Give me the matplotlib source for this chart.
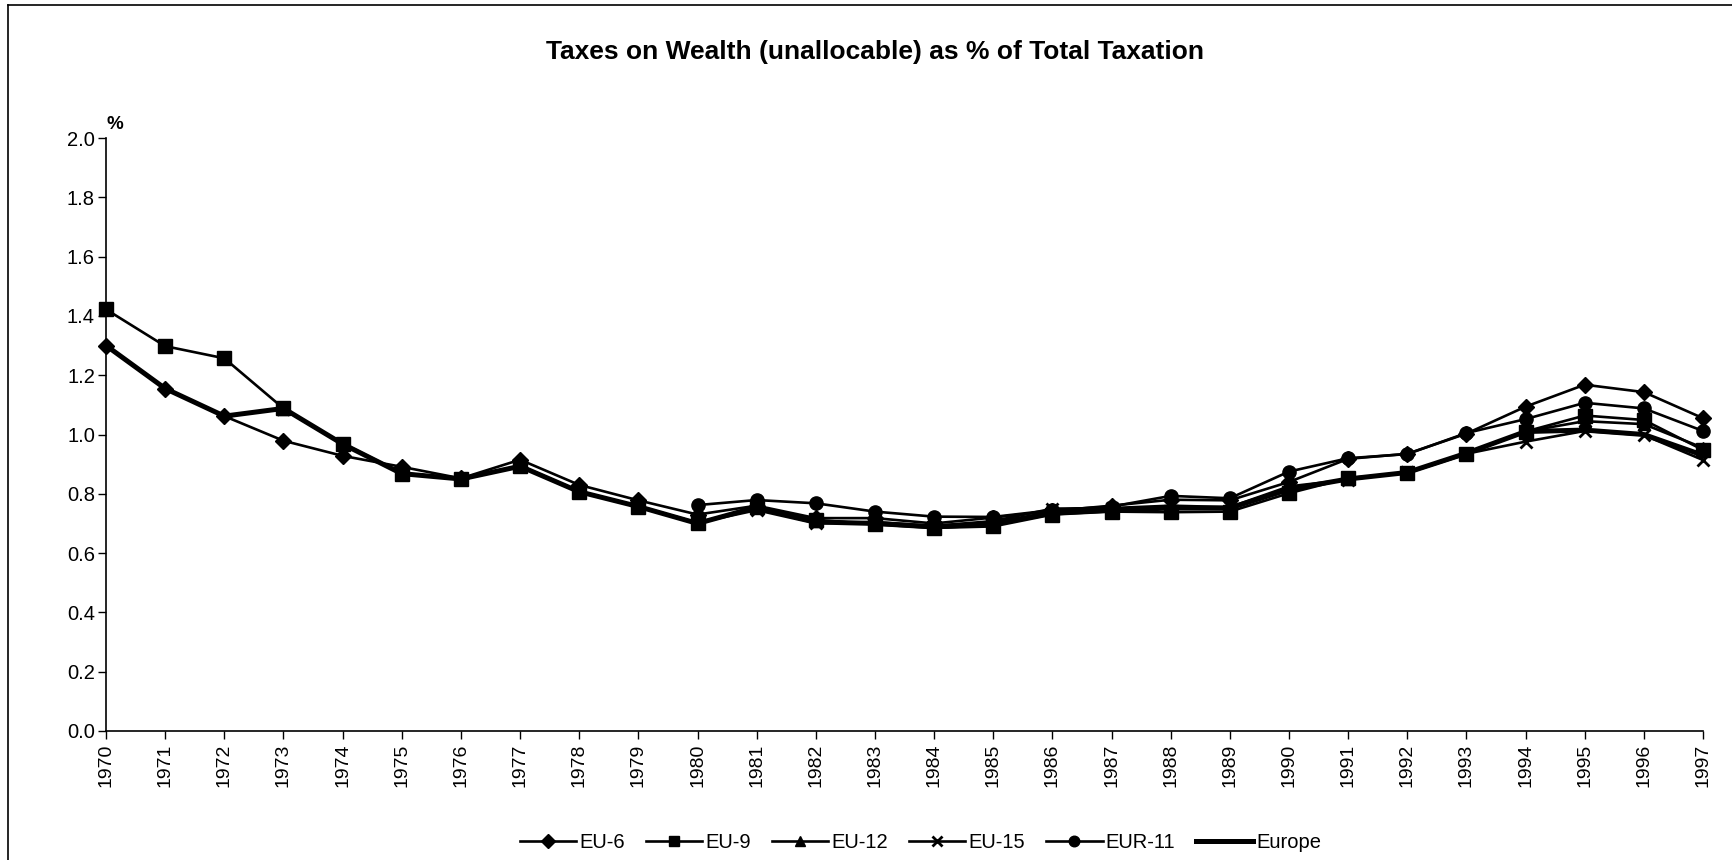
import matplotlib
matplotlib.use("Agg")
import matplotlib.pyplot as plt
import numpy as np
from matplotlib.lines import Line2D

plt.rcParams['font.family'] = ['Liberation Sans', 'DejaVu Sans']

years = list(range(1970, 1998))
nan = np.nan

# values (% of total taxation)
eu6 = [1.300, 1.155, 1.062, 0.979, 0.928, 0.891, 0.852, 0.915, 0.830, 0.778,
       0.730, 0.760, 0.718, 0.718, 0.700, 0.720, 0.742, 0.760, 0.780, 0.778,
       0.840, 0.918, 0.935, 1.003, 1.094, 1.168, 1.143, 1.055]
eu9 = [1.422, 1.298, 1.257, 1.088, 0.968, 0.868, 0.850, 0.893, 0.807, 0.757,
       0.700, 0.755, 0.712, 0.697, 0.685, 0.690, 0.730, 0.740, 0.738, 0.740,
       0.802, 0.853, 0.870, 0.934, 1.010, 1.064, 1.049, 0.948]
eu12 = [nan, nan, nan, 1.086, 0.970, 0.870, 0.851, 0.895, 0.808, 0.758,
        0.702, 0.755, 0.708, 0.700, 0.690, 0.700, 0.735, 0.745, 0.752, 0.752,
        0.815, 0.850, 0.872, 0.937, 1.010, 1.045, 1.035, 0.955]
eu15 = [nan, nan, nan, 1.087, 0.968, 0.869, 0.850, 0.894, 0.808, 0.758,
        0.702, 0.745, 0.700, 0.705, 0.692, 0.708, 0.750, 0.752, 0.760, 0.755,
        0.825, 0.848, 0.872, 0.935, 0.976, 1.012, 0.998, 0.914]
eur11 = [nan, nan, nan, nan, nan, nan, nan, nan, nan, nan,
         0.762, 0.779, 0.768, 0.740, 0.723, 0.722, 0.745, 0.757, 0.793, 0.785,
         0.875, 0.920, 0.934, 1.005, 1.052, 1.107, 1.088, 1.012]
europe = [1.300, 1.155, 1.062, 1.088, 0.968, 0.868, 0.850, 0.893, 0.807, 0.757,
          0.700, 0.755, 0.705, 0.700, 0.688, 0.700, 0.735, 0.745, 0.752, 0.752,
          0.815, 0.850, 0.872, 0.937, 1.010, 1.015, 1.000, 0.930]

series = [
    ("EU-6", eu6, "D", 8.5, 10),
    ("EU-9", eu9, "s", 9.5, 9),
    ("EU-12", eu12, "^", 9.0, 6),
    ("EU-15", eu15, "x", 9.0, 5),
    ("EUR-11", eur11, "o", 9.5, 8),
]

fig = plt.figure(figsize=(17.33, 8.6), dpi=100)
ax = fig.add_axes([0.0612, 0.150, 0.9215, 0.6895])

for name, vals, mk, ms, z in series:
    ax.plot(years, vals, color="black", lw=1.9, marker=mk, markersize=ms,
            markeredgewidth=2 if mk == "x" else 1, clip_on=False,
            zorder=z, label=name)
ax.plot(years, europe, color="black", lw=3.6, clip_on=False, zorder=4, label="Europe")

ax.set_xlim(1970, 1997)
ax.set_ylim(0, 2.0)
ax.set_yticks(np.arange(0, 2.01, 0.2))
ax.set_yticklabels([f"{v:.1f}" for v in np.arange(0, 2.01, 0.2)], fontsize=14.5)
ax.set_xticks(years)
ax.set_xticklabels([str(y) for y in years], rotation=90, fontsize=14)
ax.tick_params(axis="both", direction="out", length=6, width=1, colors="black")
ax.tick_params(axis="y", pad=2)
ax.tick_params(axis="x", pad=3)
for side in ["top", "right"]:
    ax.spines[side].set_visible(False)
for side in ["left", "bottom"]:
    ax.spines[side].set_linewidth(1.2)

fig.text(0.0615, 0.855, "%", fontsize=13.5, fontweight="bold", ha="left", va="center")
fig.text(0.505, 0.94, "Taxes on Wealth (unallocable) as % of Total Taxation",
         fontsize=19, fontweight="bold", ha="center", va="center")

handles = [Line2D([], [], color="black", lw=1.9, marker=mk, markersize=ms * 0.8,
                  markeredgewidth=2 if mk == "x" else 1) for _, _, mk, ms, _ in series]
handles.append(Line2D([], [], color="black", lw=3.6))
labels = [s[0] for s in series] + ["Europe"]
fig.legend(handles, labels, loc="center", bbox_to_anchor=(0.531, 0.02), ncol=6,
           frameon=False, fontsize=14.5, handlelength=2.8, handletextpad=0.15,
           columnspacing=1.05)

# outer chart frame (left and top edges visible in the reference)
fig.add_artist(Line2D([0.0046, 0.0046], [0.0, 0.994], color="black", lw=1.2,
                      transform=fig.transFigure))
fig.add_artist(Line2D([0.0046, 1.0], [0.994, 0.994], color="black", lw=1.2,
                      transform=fig.transFigure))

fig.savefig("out.png", dpi=100)
